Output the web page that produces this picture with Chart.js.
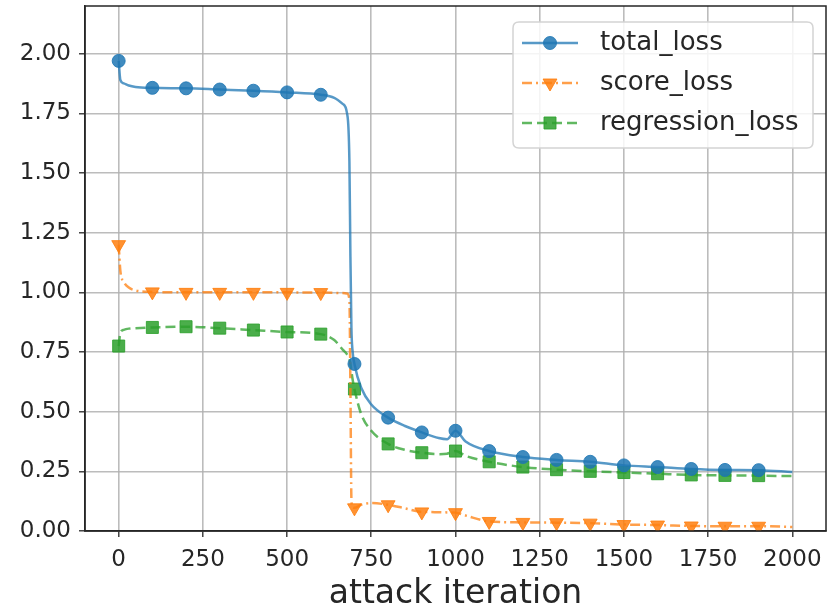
<!DOCTYPE html>
<html>
<head>
<meta charset="utf-8">
<script src="https://cdn.jsdelivr.net/npm/chart.js@4/dist/chart.umd.min.js"></script>
<style>
  html, body { margin: 0; padding: 0; background: #fff; }
  #wrap { width: 828px; height: 606px; }
</style>
</head>
<body>
<div id="wrap"><canvas id="c" width="828" height="606"></canvas></div>
<script>
// ---- data ----
const iterations = [0, 5, 15, 30, 50, 100, 200, 300, 400, 500, 600, 640, 665, 678, 685, 688, 691, 694, 700, 720, 750, 800, 850, 900, 950, 975, 1000, 1030, 1100, 1200, 1300, 1400, 1500, 1600, 1700, 1800, 1900, 2000];
const totalLoss = [1.97, 1.89, 1.876, 1.867, 1.861, 1.857, 1.855, 1.850, 1.845, 1.838, 1.828, 1.815, 1.790, 1.750, 1.550, 1.150, 0.850, 0.760, 0.700, 0.600, 0.530, 0.475, 0.440, 0.413, 0.390, 0.385, 0.420, 0.375, 0.335, 0.310, 0.298, 0.290, 0.275, 0.268, 0.260, 0.256, 0.255, 0.247];
const scoreLoss = [1.20, 1.09, 1.045, 1.020, 1.008, 1.002, 1.000, 1.000, 1.000, 1.000, 0.999, 0.998, 0.997, 0.995, 0.970, 0.600, 0.130, 0.100, 0.097, 0.110, 0.117, 0.110, 0.095, 0.080, 0.079, 0.078, 0.077, 0.065, 0.040, 0.036, 0.035, 0.033, 0.027, 0.025, 0.021, 0.020, 0.020, 0.017];
const regressionLoss = [0.775, 0.830, 0.843, 0.848, 0.850, 0.853, 0.856, 0.850, 0.842, 0.834, 0.825, 0.800, 0.760, 0.740, 0.720, 0.700, 0.670, 0.640, 0.595, 0.490, 0.420, 0.365, 0.340, 0.328, 0.322, 0.324, 0.335, 0.315, 0.290, 0.268, 0.257, 0.250, 0.245, 0.240, 0.235, 0.233, 0.232, 0.230];
const seriesNames = ['total_loss', 'score_loss', 'regression_loss'];
const xTicks = [0, 250, 500, 750, 1000, 1250, 1500, 1750, 2000];
const yTicks = [0.00, 0.25, 0.50, 0.75, 1.00, 1.25, 1.50, 1.75, 2.00];
const xTitle = 'attack iteration';

// ---- styles ----
const FONT = 'DejaVu Sans';
const styles = [
  { line: 'rgba(31,119,180,0.75)', fill: 'rgba(31,119,180,0.85)', dash: [], point: 'circle', radius: 6.5, rot: 0 },
  { line: 'rgba(255,127,14,0.75)', fill: 'rgba(255,127,14,0.85)', dash: [10, 4, 2, 4], point: 'triangle', radius: 8, rot: 180 },
  { line: 'rgba(44,160,44,0.75)', fill: 'rgba(44,160,44,0.85)', dash: [10, 5], point: 'rect', radius: 8.5, rot: 0 }
];
const seriesValues = [totalLoss, scoreLoss, regressionLoss];

const datasets = seriesValues.map((vals, i) => ({
  label: seriesNames[i],
  data: iterations.map((x, k) => ({ x: x, y: vals[k] })),
  borderColor: styles[i].line,
  backgroundColor: styles[i].fill,
  borderWidth: 2.5,
  borderDash: styles[i].dash,
  pointStyle: styles[i].point,
  pointRotation: styles[i].rot,
  pointBackgroundColor: styles[i].fill,
  pointBorderColor: styles[i].fill,
  pointBorderWidth: 1,
  pointRadius: ctx => {
    const x = iterations[ctx.dataIndex];
    return (x % 100 === 0 && x < 2000) ? styles[i].radius : 0;
  },
  pointHoverRadius: 0,
  cubicInterpolationMode: 'monotone',
  fill: false
}));

function drawMarker(ctx, style, x, y) {
  ctx.save();
  ctx.fillStyle = style.fill;
  ctx.strokeStyle = style.fill;
  ctx.lineWidth = 1;
  ctx.setLineDash([]);
  ctx.beginPath();
  const r = style.radius;
  if (style.point === 'circle') {
    ctx.arc(x, y, r, 0, Math.PI * 2);
  } else if (style.point === 'rect') {
    const s = r * Math.SQRT1_2;
    ctx.rect(x - s, y - s, 2 * s, 2 * s);
  } else {
    const a = Math.PI / 180 * style.rot;
    for (let k = 0; k < 3; k++) {
      const ang = a + k * 2 * Math.PI / 3;
      const px = x + Math.sin(ang) * r;
      const py = y - Math.cos(ang) * r;
      if (k === 0) ctx.moveTo(px, py); else ctx.lineTo(px, py);
    }
    ctx.closePath();
  }
  ctx.fill();
  ctx.stroke();
  ctx.restore();
}

const framePlugin = {
  id: 'frameAndLegend',
  afterDraw(chart) {
    const ctx = chart.ctx;
    const a = chart.chartArea;
    ctx.save();
    ctx.strokeStyle = '#262626';
    ctx.lineWidth = 1.5;
    ctx.strokeRect(a.left, a.top, a.right - a.left, a.bottom - a.top);
    const bx = 513, by = 22, bw = 300, bh = 126, br = 6;
    ctx.beginPath();
    ctx.moveTo(bx + br, by);
    ctx.lineTo(bx + bw - br, by);
    ctx.quadraticCurveTo(bx + bw, by, bx + bw, by + br);
    ctx.lineTo(bx + bw, by + bh - br);
    ctx.quadraticCurveTo(bx + bw, by + bh, bx + bw - br, by + bh);
    ctx.lineTo(bx + br, by + bh);
    ctx.quadraticCurveTo(bx, by + bh, bx, by + bh - br);
    ctx.lineTo(bx, by + br);
    ctx.quadraticCurveTo(bx, by, bx + br, by);
    ctx.closePath();
    ctx.fillStyle = 'rgba(255,255,255,0.85)';
    ctx.fill();
    ctx.strokeStyle = '#d4d4d4';
    ctx.lineWidth = 1.5;
    ctx.stroke();
    seriesNames.forEach((name, i) => {
      const y = 43 + i * 40;
      const st = styles[i];
      ctx.save();
      ctx.strokeStyle = st.line;
      ctx.lineWidth = 2.5;
      ctx.setLineDash(st.dash);
      ctx.beginPath();
      ctx.moveTo(522, y);
      ctx.lineTo(578, y);
      ctx.stroke();
      ctx.restore();
      drawMarker(ctx, st, 550, y);
      ctx.fillStyle = '#262626';
      ctx.font = '26px "' + FONT + '"';
      ctx.textBaseline = 'middle';
      ctx.textAlign = 'left';
      ctx.fillText(name, 600, y);
    });
    ctx.restore();
  }
};

new Chart(document.getElementById('c'), {
  type: 'line',
  data: { datasets: datasets },
  plugins: [framePlugin],
  options: {
    responsive: false,
    devicePixelRatio: 1,
    animation: false,
    layout: { autoPadding: false, padding: { top: 6, right: 2, left: 0, bottom: 0 } },
    plugins: { legend: { display: false }, tooltip: { enabled: false } },
    scales: {
      x: {
        type: 'linear',
        min: -100,
        max: 2100,
        afterBuildTicks: s => { s.ticks = xTicks.map(v => ({ value: v })); },
        afterFit: s => { s.height = 75; s.paddingLeft = 0; s.paddingRight = 0; },
        ticks: {
          font: { family: FONT, size: 23 },
          color: '#262626',
          padding: 9,
          maxRotation: 0,
          callback: v => String(v)
        },
        grid: { color: 'rgba(176,176,176,0.85)', lineWidth: 1.6, tickColor: '#262626', tickLength: 6, tickWidth: 1.3 },
        border: { display: true, color: '#262626', width: 1.5 },
        title: {
          display: true,
          text: xTitle,
          font: { family: FONT, size: 33, lineHeight: 1 },
          color: '#262626',
          padding: { top: 0, bottom: -5 }
        }
      },
      y: {
        type: 'linear',
        min: 0,
        max: 2.2,
        afterBuildTicks: s => { s.ticks = yTicks.map(v => ({ value: v })); },
        afterFit: s => { s.width = 85; s.paddingTop = 0; s.paddingBottom = 0; },
        ticks: {
          font: { family: FONT, size: 23 },
          color: '#262626',
          padding: 8,
          callback: v => Number(v).toFixed(2)
        },
        grid: { color: 'rgba(176,176,176,0.85)', lineWidth: 1.6, tickColor: '#262626', tickLength: 6, tickWidth: 1.3 },
        border: { display: true, color: '#262626', width: 1.5 }
      }
    }
  }
});
</script>
</body>
</html>
